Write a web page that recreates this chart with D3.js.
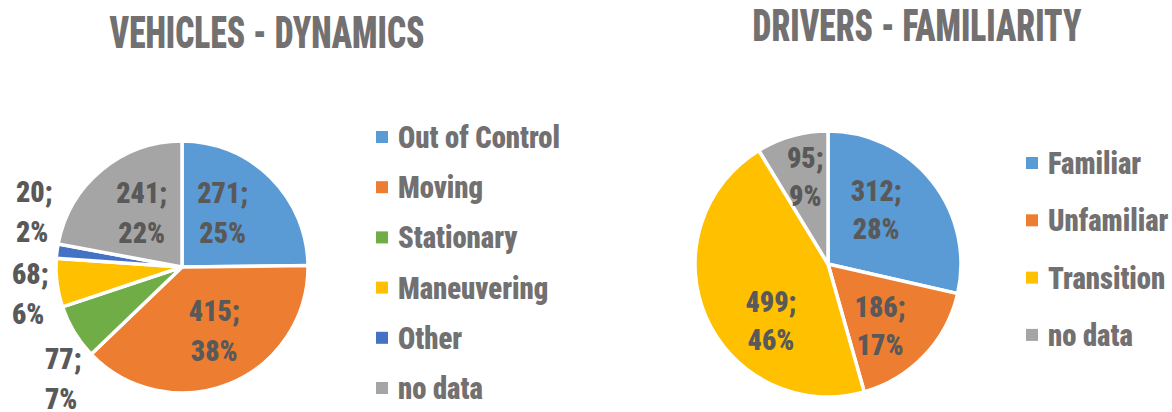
<!DOCTYPE html>
<html>
<head>
<meta charset="utf-8">
<script src="https://cdn.jsdelivr.net/npm/d3@7"></script>
<style>
  html, body { margin: 0; padding: 0; background: #fff; }
  svg { display: block; }
  text { font-family: "Roboto Condensed", Roboto, "Liberation Sans", sans-serif; font-weight: 900; }
</style>
</head>
<body>
<svg id="chart" width="1172" height="412"></svg>
<script>
// Vehicles - dynamics
const vehicleCategories = ["Out of Control", "Moving", "Stationary", "Maneuvering", "Other", "no data"];
const vehicleValues = [271, 415, 77, 68, 20, 241];
const vehiclePercents = ["25%", "38%", "7%", "6%", "2%", "22%"];

// Drivers - familiarity
const driverCategories = ["Familiar", "Unfamiliar", "Transition", "no data"];
const driverValues = [312, 186, 499, 95];
const driverPercents = ["28%", "17%", "46%", "9%"];

const vehicleColors = ["#5B9BD5", "#ED7D31", "#70AD47", "#FFC000", "#4472C4", "#A5A5A5"];
const driverColors = ["#5B9BD5", "#ED7D31", "#FFC000", "#A5A5A5"];

const svg = d3.select("#chart");
const titleColor = "#727070";
const labelColor = "#595959";

// horizontal squeeze so a sample string lands on a wanted width
function squeeze(sample, size, width) {
  const t = svg.append("text").attr("font-size", size).text(sample);
  const w = t.node().getComputedTextLength();
  t.remove();
  return width / w;
}
const TITLE_SIZE = 45, LEGEND_SIZE = 31, LABEL_SIZE = 30;
const titleSx = squeeze("VEHICLES - DYNAMICS", TITLE_SIZE, 315);
const legendSx = squeeze("Out of Control", LEGEND_SIZE, 162);
const labelSx = squeeze("271;", LABEL_SIZE, 51);

function drawPie(cfg) {
  const data = cfg.categories.map((c, i) => ({ cat: c, value: cfg.values[i], pct: cfg.percents[i] }));
  const color = d3.scaleOrdinal().domain(cfg.categories).range(cfg.colors);
  const pie = d3.pie().sort(null).value(d => d.value);
  const arcs = pie(data);
  const arc = d3.arc().innerRadius(0).outerRadius(cfg.r);
  const labelArc = d3.arc().innerRadius(cfg.r * 0.55).outerRadius(cfg.r * 0.55);

  const g = svg.append("g").attr("transform", `translate(${cfg.cx},${cfg.cy})`);
  g.selectAll("path.slice").data(arcs).join("path")
    .attr("class", "slice")
    .attr("d", arc)
    .attr("fill", d => color(d.data.cat))
    .attr("stroke", "#fff")
    .attr("stroke-width", 3.5)
    .attr("stroke-linejoin", "miter");

  // data labels "value;" / "percent"
  g.selectAll("g.lab").data(arcs).join("g").attr("class", "lab").each(function (d) {
    const lay = cfg.labelLayout[d.data.cat] || {};
    let x, y, anchor;
    if (lay.outside) {
      x = lay.x - cfg.cx; y = lay.y - cfg.cy; anchor = "start";
    } else {
      const c = labelArc.centroid(d);
      x = c[0] + (lay.dx || 0); y = c[1] + (lay.dy || 0); anchor = "middle";
    }
    const gap = cfg.lineGap;
    const t = d3.select(this).append("text")
      .attr("transform", `translate(${x},${y}) scale(${labelSx},1)`)
      .attr("text-anchor", anchor)
      .attr("fill", labelColor)
      .attr("font-size", LABEL_SIZE);
    t.append("tspan").attr("x", 0).attr("y", -gap / 2 + 11).text(d.data.value + ";");
    t.append("tspan").attr("x", 0).attr("y", gap / 2 + 11).text(d.data.pct);
  });

  // title
  svg.append("text")
    .attr("transform", `translate(${cfg.titleX},${cfg.titleY}) scale(${titleSx},1)`)
    .attr("text-anchor", "middle")
    .attr("font-size", TITLE_SIZE)
    .attr("fill", titleColor)
    .text(cfg.title);

  // legend
  const item = svg.append("g").selectAll("g").data(cfg.categories).join("g")
    .attr("transform", (d, i) => `translate(${cfg.legX},${cfg.legY + i * cfg.legStep})`);
  item.append("rect")
    .attr("x", 0).attr("y", -6).attr("width", 12).attr("height", 12)
    .attr("fill", d => color(d));
  item.append("text")
    .attr("transform", `translate(22,11) scale(${legendSx},1)`)
    .attr("font-size", LEGEND_SIZE)
    .attr("fill", titleColor)
    .text(d => d);
}

drawPie({
  categories: vehicleCategories, values: vehicleValues, percents: vehiclePercents, colors: vehicleColors,
  cx: 182, cy: 267, r: 126, lineGap: 40,
  title: "VEHICLES - DYNAMICS", titleX: 267, titleY: 48,
  legX: 376, legY: 137, legStep: 50.2,
  labelLayout: {
    "Out of Control": { dx: -8, dy: -6 },
    "Moving": { dx: 6, dy: -1 },
    "no data": { dx: 4, dy: -2 },
    "Stationary": { outside: true, x: 45, y: 378 },
    "Maneuvering": { outside: true, x: 12, y: 293 },
    "Other": { outside: true, x: 16, y: 211 }
  }
});

drawPie({
  categories: driverCategories, values: driverValues, percents: driverPercents, colors: driverColors,
  cx: 828, cy: 264, r: 133, lineGap: 38,
  title: "DRIVERS - FAMILIARITY", titleX: 917, titleY: 41,
  legX: 1026, legY: 163, legStep: 57.3,
  labelLayout: {
    "Familiar": { dx: -9, dy: -9 },
    "Unfamiliar": { dx: -1, dy: 11 },
    "Transition": { dx: 10, dy: 27 },
    "no data": { dx: -3, dy: -18 }
  }
});
</script>
</body>
</html>
